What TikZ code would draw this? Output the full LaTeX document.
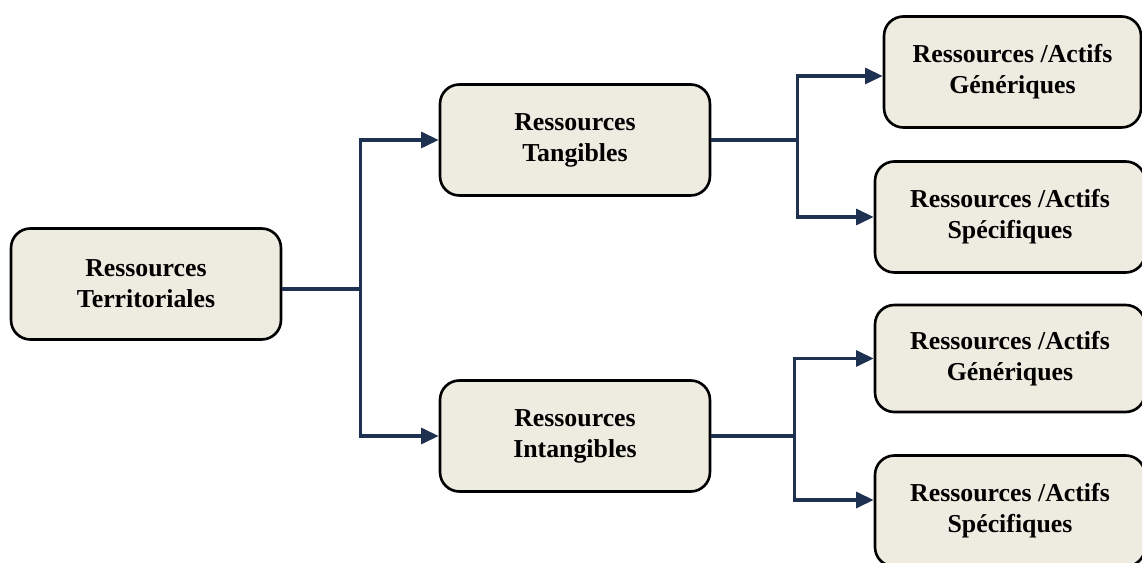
\documentclass[tikz,border=0pt]{standalone}
\usepackage{fontspec}
\setmainfont{Liberation Serif}
\usetikzlibrary{arrows.meta}
\definecolor{boxfill}{HTML}{EEECE1}
\definecolor{navy}{HTML}{1F3150}
\begin{document}
\begin{tikzpicture}[x=0.02cm, y=-0.02cm,
  res/.style = {draw, line width=1.5pt, fill=boxfill, rounded corners=11pt, minimum width=5.4cm, minimum height=2.22cm, align=center, font=\fontsize{14.7}{17.6}\selectfont\bfseries},
  link/.style = {draw=navy, line width=1.9pt, -{Triangle[length=10pt, width=9pt]}}]
\useasboundingbox (0,0) rectangle (1142,563);
\clip (0,0) rectangle (1142,563);
\node[res] (terr) at (146,284) {Ressources\\Territoriales};
\node[res] (tang) at (575,140) {Ressources\\Tangibles};
\node[res] (intang) at (575,436) {Ressources\\Intangibles};
\node[res, minimum width=5.14cm] (tgen) at (1012.5,72) {Ressources /Actifs\\Génériques};
\node[res] (tspec) at (1010,217) {Ressources /Actifs\\Spécifiques};
\node[res, minimum height=2.14cm] (igen) at (1010,358.5) {Ressources /Actifs\\Génériques};
\node[res] (ispec) at (1010,511) {Ressources /Actifs\\Spécifiques};
% branches
\draw[link] ([yshift=-1mm]terr.east) -- ++(78,0) |- (tang.west);
\draw[link] ([yshift=-1mm]terr.east) -- ++(78,0) |- (intang.west);
\draw[link] (tang.east) -- ++(86,0) |- ([yshift=-0.8mm]tgen.west);
\draw[link] (tang.east) -- ++(86,0) |- (tspec.west);
\draw[link] (intang.east) -- ++(83,0) |- (igen.west);
\draw[link] (intang.east) -- ++(83,0) |- ([yshift=2.2mm]ispec.west);
\end{tikzpicture}
\end{document}
